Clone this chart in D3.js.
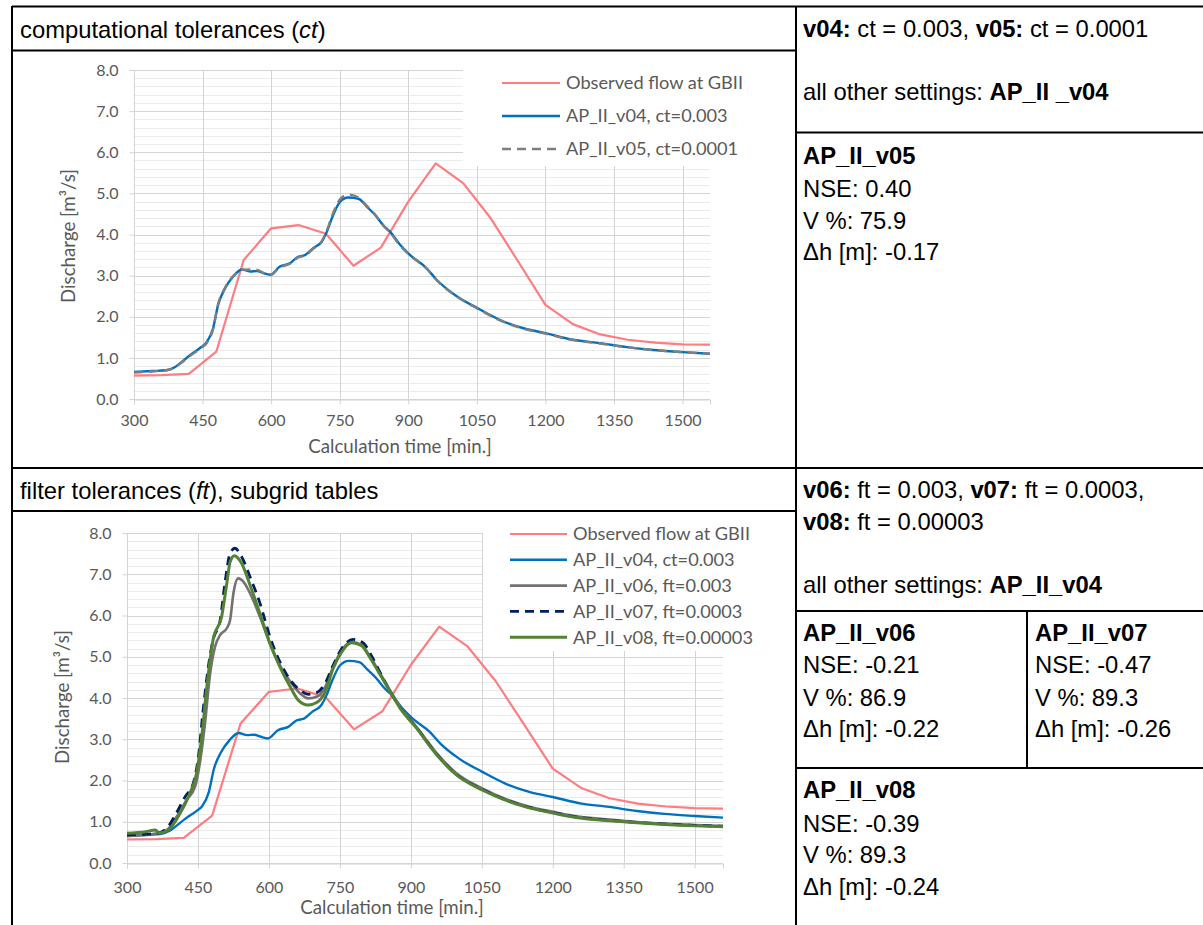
<!DOCTYPE html>
<html>
<head>
<meta charset="utf-8">
<script src="https://cdn.jsdelivr.net/npm/d3@7"></script>
<style>
  html, body { margin: 0; padding: 0; background: #fff; }
  svg { display: block; }
</style>
</head>
<body>
<svg id="fig" width="1203" height="925"></svg>
<script>
// ---- Observed discharge at gauge GBII (hourly) ----
const obsTime = [300, 360, 420, 480, 540, 600, 660, 720, 780, 840, 900, 960, 1020, 1080, 1140, 1200, 1260, 1320, 1380, 1440, 1500, 1560];
const obsFlow = [0.57, 0.58, 0.61, 1.15, 3.38, 4.15, 4.23, 4.02, 3.24, 3.68, 4.80, 5.73, 5.25, 4.40, 3.35, 2.29, 1.82, 1.57, 1.44, 1.37, 1.33, 1.32];

// ---- AP_II_v04 / v05 (computational tolerance runs) ----
const ctTime = [300, 340, 371, 390, 401, 423, 448, 459, 473, 484, 499, 517, 536, 554, 569, 583, 598, 619, 641, 659, 674, 692, 711, 722, 733, 751, 769, 791, 809, 827, 845, 860, 882, 904, 940, 962, 1002, 1051, 1101, 1152, 1200, 1261, 1319, 1378, 1436, 1500, 1560];
const v04Flow = [0.66, 0.68, 0.70, 0.78, 0.87, 1.07, 1.27, 1.38, 1.72, 2.29, 2.69, 2.98, 3.15, 3.10, 3.11, 3.06, 3.02, 3.22, 3.30, 3.46, 3.50, 3.67, 3.83, 4.07, 4.40, 4.80, 4.90, 4.87, 4.68, 4.48, 4.23, 4.07, 3.75, 3.50, 3.18, 2.90, 2.53, 2.21, 1.92, 1.72, 1.60, 1.44, 1.36, 1.26, 1.19, 1.14, 1.10];
const v05Flow = [0.64, 0.67, 0.70, 0.77, 0.86, 1.05, 1.25, 1.36, 1.70, 2.31, 2.70, 2.99, 3.14, 3.15, 3.14, 3.07, 3.01, 3.20, 3.29, 3.44, 3.49, 3.65, 3.84, 4.10, 4.45, 4.86, 4.97, 4.90, 4.70, 4.49, 4.22, 4.05, 3.73, 3.49, 3.17, 2.89, 2.52, 2.20, 1.91, 1.71, 1.59, 1.43, 1.35, 1.26, 1.19, 1.14, 1.10];

// ---- AP_II_v06 / v07 / v08 (filter tolerance runs) ----
const v06Time = [300, 363, 384, 405, 426, 444, 454, 465, 475, 486, 497, 511, 518, 525, 535, 546, 560, 581, 602, 623, 645, 666, 683, 701, 719, 736, 754, 775, 796, 814, 835, 856, 877, 912, 955, 997, 1051, 1103, 1152, 1201, 1258, 1314, 1370, 1427, 1501, 1560];
const v06Flow = [0.65, 0.72, 0.80, 1.12, 1.53, 1.85, 2.42, 3.39, 4.52, 5.24, 5.53, 5.69, 5.89, 6.54, 6.90, 6.82, 6.54, 5.97, 5.33, 4.80, 4.40, 4.11, 3.99, 4.03, 4.27, 4.76, 5.16, 5.36, 5.28, 5.00, 4.60, 4.19, 3.79, 3.30, 2.66, 2.17, 1.81, 1.54, 1.36, 1.24, 1.12, 1.06, 1.00, 0.96, 0.92, 0.90];

const v07Time = [300, 363, 384, 402, 423, 440, 451, 461, 472, 482, 497, 507, 518, 528, 542, 560, 581, 602, 623, 645, 666, 683, 701, 719, 736, 754, 778, 800, 818, 838, 858, 880, 912, 955, 997, 1051, 1103, 1152, 1201, 1258, 1314, 1370, 1427, 1501, 1560];
const v07Flow = [0.68, 0.72, 0.84, 1.16, 1.61, 1.93, 2.58, 3.71, 4.76, 5.41, 5.89, 6.78, 7.51, 7.63, 7.43, 6.94, 6.30, 5.49, 4.88, 4.44, 4.19, 4.09, 4.13, 4.36, 4.80, 5.20, 5.42, 5.33, 5.00, 4.55, 4.12, 3.72, 3.28, 2.63, 2.14, 1.78, 1.52, 1.34, 1.22, 1.10, 1.04, 0.99, 0.95, 0.91, 0.89];

const v08Time = [300, 340, 360, 368, 391, 412, 433, 447, 458, 468, 482, 500, 511, 518, 527, 542, 560, 581, 602, 623, 645, 662, 683, 701, 719, 736, 754, 775, 796, 814, 835, 856, 877, 912, 955, 997, 1051, 1103, 1152, 1201, 1258, 1314, 1370, 1427, 1501, 1560];
const v08Flow = [0.72, 0.76, 0.80, 0.73, 0.84, 1.20, 1.69, 2.17, 3.06, 4.19, 5.41, 5.97, 6.78, 7.30, 7.45, 7.27, 6.74, 6.05, 5.33, 4.76, 4.27, 3.95, 3.83, 3.89, 4.15, 4.72, 5.12, 5.34, 5.27, 4.97, 4.57, 4.16, 3.76, 3.27, 2.62, 2.13, 1.77, 1.51, 1.33, 1.21, 1.09, 1.03, 0.98, 0.94, 0.90, 0.88];

// ---- Axis ticks ----
const timeTicks = [300, 450, 600, 750, 900, 1050, 1200, 1350, 1500];
const flowTicks = [0, 1, 2, 3, 4, 5, 6, 7, 8];
const flowMinorTicks = d3.range(0, 41).map(i => i / 5);

// ---- Series styles ----
const styles = {
  obs: { color: "#FF7C80", width: 2.2, dash: null, curve: d3.curveLinear },
  v04: { color: "#0070C0", width: 2.4, dash: null, curve: d3.curveMonotoneX },
  v05: { color: "#7F7F7F", width: 2.4, dash: "9,6", curve: d3.curveMonotoneX },
  v06: { color: "#767171", width: 2.6, dash: null, curve: d3.curveMonotoneX },
  v07: { color: "#002060", width: 2.8, dash: "9,6", curve: d3.curveMonotoneX },
  v08: { color: "#548235", width: 3.0, dash: null, curve: d3.curveMonotoneX }
};

const svg = d3.select("#fig");
svg.append("rect").attr("width", 1203).attr("height", 925).attr("fill", "#fff");

const chartFont = "Lato, 'Open Sans', sans-serif";
const textGrey = "#595959";

function drawChart(cfg) {
  const g = svg.append("g");
  const x = d3.scaleLinear().domain([300, 1560]).range([cfg.left, cfg.right]);
  const y = d3.scaleLinear().domain([0, 8]).range([cfg.bottom, cfg.top]);

  // minor horizontal grid
  g.append("g").selectAll("line")
    .data(flowMinorTicks.filter(v => Math.abs(v - Math.round(v)) > 1e-6))
    .join("line")
    .attr("x1", cfg.left).attr("x2", cfg.right)
    .attr("y1", d => Math.round(y(d)) + 0.5).attr("y2", d => Math.round(y(d)) + 0.5)
    .attr("stroke", "#EBEBEB").attr("stroke-width", 1);

  // major horizontal grid
  g.append("g").selectAll("line")
    .data(flowTicks)
    .join("line")
    .attr("x1", cfg.left).attr("x2", cfg.right)
    .attr("y1", d => Math.round(y(d)) + 0.5).attr("y2", d => Math.round(y(d)) + 0.5)
    .attr("stroke", "#D4D4D4").attr("stroke-width", 1);

  // vertical grid
  g.append("g").selectAll("line")
    .data(timeTicks)
    .join("line")
    .attr("x1", d => Math.round(x(d)) + 0.5).attr("x2", d => Math.round(x(d)) + 0.5)
    .attr("y1", cfg.top).attr("y2", cfg.bottom)
    .attr("stroke", "#D4D4D4").attr("stroke-width", 1);

  // legend panel covers the grid behind it
  g.append("rect")
    .attr("x", cfg.legend.boxX).attr("y", cfg.top - 10)
    .attr("width", cfg.right - cfg.legend.boxX + 2)
    .attr("height", cfg.legend.boxBottom - cfg.top + 10)
    .attr("fill", "#fff");

  // axes
  const ya = g.append("g")
    .attr("transform", `translate(${Math.round(cfg.left) + 0.5},0)`)
    .call(d3.axisLeft(y).tickValues(flowTicks).tickFormat(d3.format(".1f")).tickSize(5).tickPadding(11));
  ya.select(".domain").remove();
  ya.selectAll(".tick line").attr("stroke", "#D4D4D4");
  ya.selectAll(".tick text").attr("fill", textGrey).style("font", `16px ${chartFont}`);

  const xa = g.append("g")
    .attr("transform", `translate(0,${Math.round(cfg.bottom) + 0.5})`)
    .call(d3.axisBottom(x).tickValues(timeTicks).tickFormat(d3.format("d")).tickSize(5).tickPadding(cfg.xPad));
  xa.select(".domain").attr("stroke", "#D4D4D4");
  xa.selectAll(".tick line").attr("stroke", "#D4D4D4");
  xa.selectAll(".tick text").attr("fill", textGrey).style("font", `16px ${chartFont}`);

  // axis titles
  g.append("text")
    .attr("x", cfg.xTitle[0]).attr("y", cfg.xTitle[1])
    .attr("text-anchor", "middle").attr("fill", textGrey)
    .style("font", `18.7px ${chartFont}`)
    .text("Calculation time [min.]");
  g.append("text")
    .attr("transform", `translate(${cfg.yTitle[0]},${cfg.yTitle[1]}) rotate(-90)`)
    .attr("text-anchor", "middle").attr("fill", textGrey)
    .style("font", `18.7px ${chartFont}`)
    .text("Discharge [m³/s]");

  // series
  cfg.series.forEach(s => {
    const st = styles[s.key];
    const line = d3.line().x(d => x(d[0])).y(d => y(d[1])).curve(st.curve);
    g.append("path")
      .datum(d3.zip(s.t, s.v))
      .attr("d", line)
      .attr("fill", "none")
      .attr("stroke", st.color)
      .attr("stroke-width", st.width)
      .attr("stroke-linejoin", "round")
      .attr("stroke-dasharray", st.dash);
  });

  // legend
  const lg = g.append("g");
  cfg.series.forEach((s, i) => {
    const st = styles[s.key];
    const cy = cfg.legend.y0 + i * cfg.legend.dy;
    lg.append("line")
      .attr("x1", cfg.legend.x0).attr("x2", cfg.legend.x1)
      .attr("y1", cy).attr("y2", cy)
      .attr("stroke", st.color).attr("stroke-width", st.width)
      .attr("stroke-dasharray", st.dash);
    lg.append("text")
      .attr("x", cfg.legend.x1 + 6).attr("y", cy).attr("dy", "0.35em")
      .attr("fill", textGrey)
      .style("font", `18.2px ${chartFont}`)
      .text(s.label);
  });
}

// top chart: computational tolerances
drawChart({
  left: 134, right: 710, top: 70, bottom: 399, xPad: 10,
  xTitle: [400, 453], yTitle: [75, 236],
  legend: { boxX: 463, boxBottom: 166, x0: 502, x1: 560, y0: 83, dy: 33 },
  series: [
    { key: "obs", label: "Observed flow at GBII", t: obsTime, v: obsFlow },
    { key: "v04", label: "AP_II_v04, ct=0.003", t: ctTime, v: v04Flow },
    { key: "v05", label: "AP_II_v05, ct=0.0001", t: ctTime, v: v05Flow }
  ]
});

// bottom chart: filter tolerances
drawChart({
  left: 127, right: 723, top: 533, bottom: 863, xPad: 13,
  xTitle: [392, 914], yTitle: [69, 697],
  legend: { boxX: 483, boxBottom: 651, x0: 510, x1: 567, y0: 534, dy: 25.8 },
  series: [
    { key: "obs", label: "Observed flow at GBII", t: obsTime, v: obsFlow },
    { key: "v04", label: "AP_II_v04, ct=0.003", t: ctTime, v: v04Flow },
    { key: "v06", label: "AP_II_v06, ft=0.003", t: v06Time, v: v06Flow },
    { key: "v07", label: "AP_II_v07, ft=0.0003", t: v07Time, v: v07Flow },
    { key: "v08", label: "AP_II_v08, ft=0.00003", t: v08Time, v: v08Flow }
  ]
});

// ---- Table frame ----
const rules = [
  [12, 6.5, 1203, 6.5],      // top border
  [12, 6, 12, 925],          // left border
  [796, 6, 796, 925],        // column divider
  [12, 50.5, 796, 50.5],     // header 1
  [12, 468, 1203, 468],      // section divider
  [12, 511, 796, 511],       // header 2
  [796, 132.5, 1203, 132.5],
  [796, 611, 1203, 611],
  [1027, 611, 1027, 768],
  [796, 768, 1203, 768]
];
svg.append("g").selectAll("line").data(rules).join("line")
  .attr("x1", d => d[0]).attr("y1", d => d[1])
  .attr("x2", d => d[2]).attr("y2", d => d[3])
  .attr("stroke", "#000").attr("stroke-width", 2);

// ---- Table text ----
const tableFont = "'Liberation Sans', Arial, sans-serif";
function cellText(x, y, parts) {
  const t = svg.append("text").attr("x", x).attr("y", y)
    .attr("fill", "#000").style("font", `23.8px ${tableFont}`);
  parts.forEach(p => {
    const ts = t.append("tspan").text(p[0]);
    if (p[1] === "b") ts.attr("font-weight", "bold");
    if (p[1] === "i") ts.attr("font-style", "italic");
  });
}

cellText(20, 37.5, [["computational tolerances ("], ["ct", "i"], [")"]]);
cellText(20, 498.5, [["filter tolerances ("], ["ft", "i"], ["), subgrid tables"]]);

cellText(803, 36.5, [["v04:", "b"], [" ct = 0.003, "], ["v05:", "b"], [" ct = 0.0001"]]);
cellText(803, 100, [["all other settings: "], ["AP_II _v04", "b"]]);
cellText(803, 164, [["AP_II_v05", "b"]]);
cellText(803, 196.5, [["NSE: 0.40"]]);
cellText(803, 228.5, [["V %: 75.9"]]);
cellText(803, 260, [["Δh [m]: -0.17"]]);

cellText(803, 498.3, [["v06:", "b"], [" ft = 0.003, "], ["v07:", "b"], [" ft = 0.0003,"]]);
cellText(803, 530, [["v08:", "b"], [" ft = 0.00003"]]);
cellText(803, 592.7, [["all other settings: "], ["AP_II_v04", "b"]]);

cellText(803, 640.7, [["AP_II_v06", "b"]]);
cellText(803, 673, [["NSE: -0.21"]]);
cellText(803, 705.5, [["V %: 86.9"]]);
cellText(803, 736.7, [["Δh [m]: -0.22"]]);

cellText(1035, 640.7, [["AP_II_v07", "b"]]);
cellText(1035, 673, [["NSE: -0.47"]]);
cellText(1035, 705.5, [["V %: 89.3"]]);
cellText(1035, 736.7, [["Δh [m]: -0.26"]]);

cellText(803, 798.3, [["AP_II_v08", "b"]]);
cellText(803, 831.5, [["NSE: -0.39"]]);
cellText(803, 863.3, [["V %: 89.3"]]);
cellText(803, 895, [["Δh [m]: -0.24"]]);
</script>
</body>
</html>
